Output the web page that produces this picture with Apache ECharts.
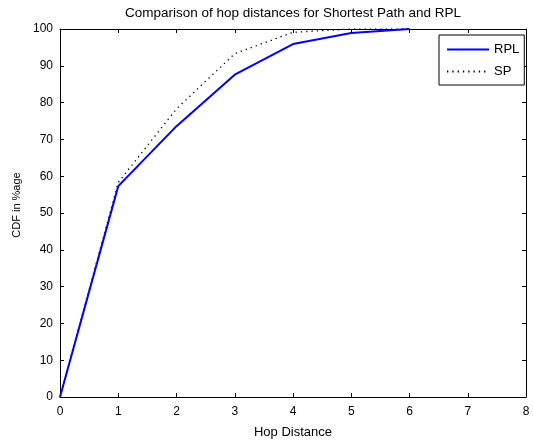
<!DOCTYPE html>
<html><head><meta charset="utf-8">
<script src="https://cdn.jsdelivr.net/npm/echarts@6/dist/echarts.min.js"></script>
<style>html,body{margin:0;padding:0;background:#fff}#c{width:533px;height:444px}</style>
</head><body><div id="c"></div>
<script>
const hops = [0, 1, 2, 3, 4, 5, 6];
const rpl = [0, 57.3, 73.6, 87.6, 95.9, 98.9, 100];
const sp = [0, 58.3, 78.3, 93.3, 99.1, 100, 100];
const xTicks = [0, 1, 2, 3, 4, 5, 6, 7, 8];
const yTicks = [0, 10, 20, 30, 40, 50, 60, 70, 80, 90, 100];

const font = 'Liberation Sans, Arial, Helvetica, sans-serif';
const chart = echarts.init(document.getElementById('c'), null, {renderer: 'canvas'});
const pair = (ys) => hops.map((h, i) => [h, ys[i]]);
const axisCommon = () => ({
  axisLine: {show: true, onZero: false, lineStyle: {color: '#000', width: 1}},
  axisTick: {show: true, inside: true, length: 4, lineStyle: {color: '#000'}},
  splitLine: {show: false},
});
chart.setOption({
  animation: false,
  backgroundColor: '#fff',
  title: {
    text: 'Comparison of hop distances for Shortest Path and RPL',
    left: 288, top: 1, textAlign: 'center',
    textStyle: {fontFamily: font, fontSize: 13.5, fontWeight: 'normal', color: '#000'}
  },
  grid: {left: 60, right: 7, top: 29, bottom: 45, containLabel: false},
  legend: {
    orient: 'vertical', left: 439, top: 35,
    borderColor: '#000', borderWidth: 1, padding: [8, 5, 7, 7],
    itemWidth: 42, itemHeight: 14, itemGap: 9,
    backgroundColor: '#fff',
    itemStyle: {opacity: 0},
    textStyle: {fontFamily: font, fontSize: 13, color: '#000'},
    data: ['RPL', 'SP']
  },
  xAxis: [
    Object.assign({
      type: 'value', min: 0, max: 8, interval: 1,
      name: 'Hop Distance', nameLocation: 'middle', nameGap: 29,
      nameTextStyle: {fontFamily: font, fontSize: 13, color: '#000'},
      axisLabel: {fontFamily: font, fontSize: 12, color: '#000', margin: 9}
    }, axisCommon()),
    Object.assign({
      type: 'value', min: 0, max: 8, interval: 1, position: 'top',
      axisLabel: {show: false}
    }, axisCommon())
  ],
  yAxis: [
    Object.assign({
      type: 'value', min: 0, max: 100, interval: 10,
      name: 'CDF in %age', nameLocation: 'middle', nameGap: 37,
      nameTextStyle: {fontFamily: font, fontSize: 11, color: '#000', padding: [0, 0, 0, 16]},
      axisLabel: {fontFamily: font, fontSize: 12, color: '#000', margin: 7}
    }, axisCommon()),
    Object.assign({
      type: 'value', min: 0, max: 100, interval: 10, position: 'right',
      axisLabel: {show: false}
    }, axisCommon())
  ],
  series: [
    {
      name: 'RPL', type: 'line', data: pair(rpl), symbol: 'none',
      lineStyle: {color: '#0000ff', width: 2}, itemStyle: {color: '#0000ff'}, z: 3
    },
    {
      name: 'SP', type: 'line', data: pair(sp), symbol: 'none',
      lineStyle: {color: '#000', width: 1.3, type: [1.3, 4]}, itemStyle: {color: '#000'}, z: 2
    }
  ]
});
</script></body></html>
